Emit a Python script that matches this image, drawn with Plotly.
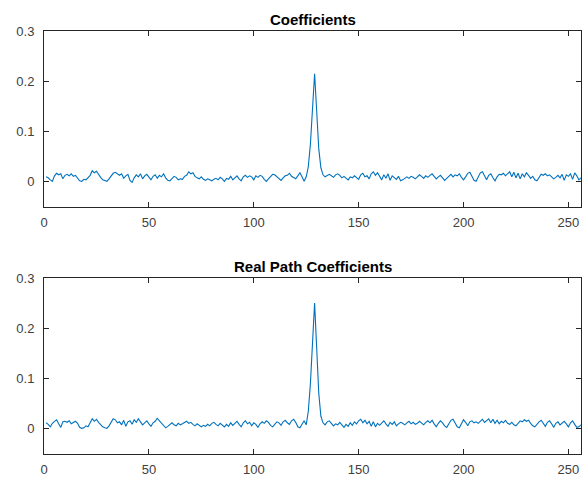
import plotly.graph_objects as go
from plotly.subplots import make_subplots

x_index = list(range(1, 257))

coefficients = [
    0.010, 0.008, 0.004, 0.001, 0.012, 0.017, 0.014, 0.016, 0.006, 0.013, 0.015, 0.012, 0.016, 0.011, 0.013, 0.008,
    0.002, 0.001, 0.005, 0.004, 0.009, 0.013, 0.022, 0.018, 0.021, 0.014, 0.009, 0.004, 0.002, 0.001, 0.006, 0.012,
    0.017, 0.019, 0.015, 0.013, 0.016, 0.007, 0.012, 0.015, 0.003, -0.001, 0.008, 0.014, 0.010, 0.016, 0.006, 0.012,
    0.015, 0.009, 0.004, 0.011, 0.014, 0.007, 0.013, 0.010, 0.016, 0.008, 0.003, 0.002, 0.007, 0.011, 0.009, 0.004,
    0.006, 0.005, 0.011, 0.013, 0.020, 0.016, 0.018, 0.011, 0.008, 0.006, 0.010, 0.005, 0.003, 0.006, 0.004, 0.002,
    0.005, 0.007, 0.004, 0.009, 0.006, 0.001, 0.007, 0.005, 0.011, 0.004, 0.008, 0.012, 0.006, 0.002, 0.010, 0.013,
    0.009, 0.012, 0.010, 0.004, 0.012, 0.009, 0.013, 0.011, 0.005, 0.001, 0.006, 0.011, 0.015, 0.014, 0.010, 0.006,
    0.003, 0.008, 0.012, 0.013, 0.017, 0.011, 0.008, 0.006, 0.012, 0.018, 0.010, 0.001, 0.010, 0.030, 0.075, 0.150,
    0.215,
    0.140, 0.065, 0.028, 0.014, 0.010, 0.013, 0.015, 0.012, 0.009, 0.014, 0.016, 0.013, 0.008, 0.011, 0.007,
    0.004, 0.010, 0.008, 0.012, 0.009, 0.005, 0.014, 0.017, 0.010, 0.012, 0.006, 0.016, 0.020, 0.013, 0.018, 0.012,
    0.004, 0.014, 0.007, 0.016, 0.003, 0.012, 0.009, 0.005, 0.011, 0.002, 0.004, 0.008, 0.010, 0.007, 0.011, 0.009,
    0.006, 0.010, 0.014, 0.011, 0.007, 0.012, 0.009, 0.013, 0.016, 0.011, 0.006, 0.010, 0.013, 0.008, 0.003, 0.007,
    0.012, 0.015, 0.010, 0.014, 0.012, 0.016, 0.009, 0.004, 0.010, 0.017, 0.019, 0.012, 0.003, 0.001, 0.009, 0.018,
    0.020, 0.011, 0.004, 0.013, 0.016, 0.008, 0.002, 0.010, 0.015, 0.014, 0.017, 0.012, 0.016, 0.020, 0.010, 0.019,
    0.008, 0.017, 0.006, 0.016, 0.010, 0.018, 0.013, 0.007, 0.011, 0.004, 0.002, 0.008, 0.015, 0.013, 0.016, 0.012,
    0.014, 0.010, 0.006, 0.009, 0.013, 0.008, 0.015, 0.003, 0.014, 0.011, 0.016, 0.005, 0.018, 0.012, 0.004, 0.008,
]

real_path_coefficients = [
    0.012, 0.009, 0.004, 0.011, 0.015, 0.018, 0.010, 0.003, 0.014, 0.015, 0.013, 0.016, 0.010, 0.012, 0.015, 0.011,
    0.003, 0.001, 0.002, 0.006, 0.004, 0.012, 0.020, 0.015, 0.019, 0.013, 0.008, 0.004, 0.002, 0.001, 0.006, 0.014,
    0.020, 0.018, 0.012, 0.014, 0.008, 0.017, 0.005, 0.014, 0.016, 0.009, 0.018, 0.013, 0.020, 0.014, 0.008, 0.012,
    0.016, 0.010, 0.005, 0.012, 0.015, 0.021, 0.016, 0.010, 0.006, 0.002, 0.005, 0.009, 0.012, 0.008, 0.006, 0.011,
    0.008, 0.010, 0.012, 0.015, 0.011, 0.013, 0.009, 0.006, 0.010, 0.007, 0.004, 0.007, 0.005, 0.009, 0.006, 0.011,
    0.013, 0.009, 0.006, 0.011, 0.008, 0.004, 0.009, 0.005, 0.012, 0.007, 0.011, 0.015, 0.009, 0.004, 0.012, 0.016,
    0.010, 0.013, 0.006, 0.012, 0.009, 0.003, 0.010, 0.014, 0.011, 0.016, 0.013, 0.007, 0.004, 0.009, 0.014, 0.012,
    0.007, 0.014, 0.017, 0.012, 0.009, 0.016, 0.019, 0.013, 0.004, 0.002, 0.010, 0.016, 0.008, 0.035, 0.090, 0.180,
    0.250,
    0.160, 0.070, 0.025, 0.012, 0.008, 0.014, 0.016, 0.011, 0.006, 0.010, 0.008, 0.013, 0.007, 0.003, 0.009,
    0.005, 0.012, 0.007, 0.014, 0.010, 0.016, 0.019, 0.012, 0.017, 0.010, 0.015, 0.005, 0.014, 0.004, 0.011, 0.007,
    0.012, 0.016, 0.010, 0.005, 0.013, 0.009, 0.014, 0.006, 0.010, 0.013, 0.011, 0.008, 0.012, 0.015, 0.010, 0.013,
    0.009, 0.011, 0.015, 0.012, 0.008, 0.013, 0.016, 0.012, 0.017, 0.010, 0.004, 0.011, 0.016, 0.012, 0.006, 0.003,
    0.010, 0.017, 0.019, 0.012, 0.004, 0.002, 0.011, 0.018, 0.013, 0.006, 0.014, 0.016, 0.012, 0.014, 0.011, 0.015,
    0.019, 0.013, 0.016, 0.020, 0.012, 0.019, 0.011, 0.017, 0.010, 0.015, 0.012, 0.017, 0.011, 0.009, 0.013, 0.008,
    0.006, 0.012, 0.016, 0.014, 0.018, 0.015, 0.017, 0.011, 0.006, 0.004, 0.010, 0.014, 0.017, 0.012, 0.005, 0.013,
    0.016, 0.010, 0.003, 0.011, 0.014, 0.008, 0.012, 0.015, 0.010, 0.004, 0.012, 0.016, 0.009, 0.003, 0.004, 0.008,
]

titles = ["Coefficients", "Real Path Coefficients"]
x_ticks = [0, 50, 100, 150, 200, 250]
y_ticks = [0, 0.1, 0.2, 0.3]
y_tick_text = ["0", "0.1", "0.2", "0.3"]

W, H = 583, 479
ml, mr, mt, mb = 44, 2, 31, 25
plot_h = H - mt - mb
panel_h = 176

fig = make_subplots(rows=2, cols=1, vertical_spacing=(plot_h - 2 * panel_h) / plot_h)
line_color = "#0072BD"
for i, series in enumerate([coefficients, real_path_coefficients]):
    fig.add_trace(go.Scatter(x=x_index, y=series, mode="lines",
                             line=dict(color=line_color, width=1.1),
                             showlegend=False, hoverinfo="skip"), row=i + 1, col=1)

font_family = "Liberation Sans, Arial, sans-serif"
axis_style = dict(showline=True, linecolor="#262626", linewidth=1, mirror="ticks",
                  ticks="inside", ticklen=5, tickcolor="#262626", showgrid=False,
                  zeroline=False, tickfont=dict(family=font_family, size=13, color="#404040"))
for r in (1, 2):
    fig.update_xaxes(range=[0, 256], tickvals=x_ticks, ticklabelstandoff=3, **axis_style, row=r, col=1)
    fig.update_yaxes(range=[-0.05, 0.3], tickvals=y_ticks, ticktext=y_tick_text,
                     ticklabelstandoff=6, **axis_style, row=r, col=1)

annotations = []
for i, t in enumerate(titles):
    yax = fig.layout["yaxis" if i == 0 else "yaxis2"]
    top = yax.domain[1]
    annotations.append(dict(text="<b>" + t + "</b>", xref="paper", yref="paper",
                            x=0.5, y=top, xanchor="center", yanchor="bottom", yshift=1,
                            showarrow=False,
                            font=dict(family=font_family, size=15, color="#000000")))

fig.update_layout(width=W, height=H, margin=dict(l=ml, r=mr, t=mt, b=mb),
                  plot_bgcolor="white", paper_bgcolor="white", annotations=annotations)

fig.write_html("out.html")
